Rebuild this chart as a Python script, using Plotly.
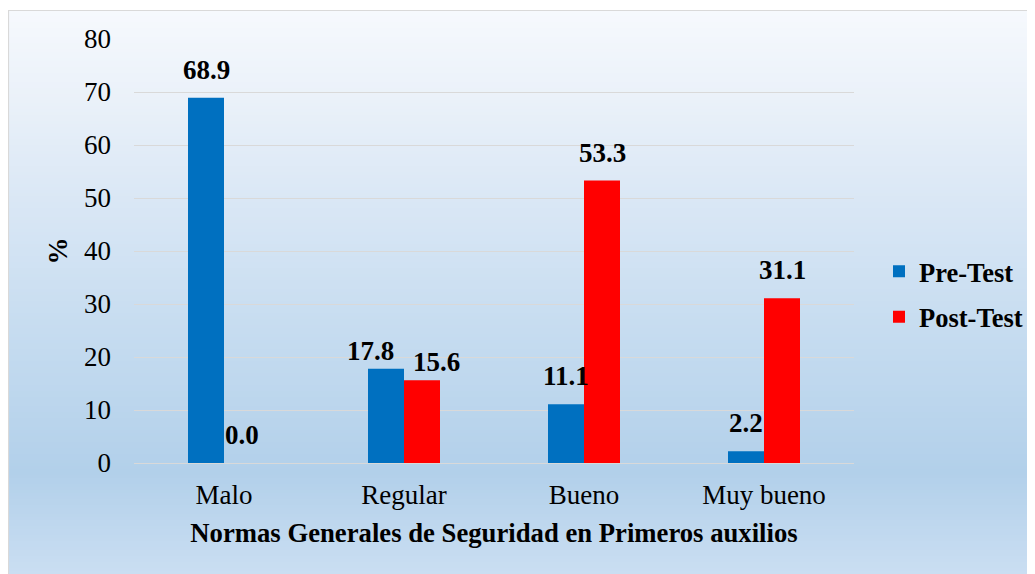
import plotly.graph_objects as go

categories = ["Malo", "Regular", "Bueno", "Muy bueno"]
pre_test = [68.9, 17.8, 11.1, 2.2]
post_test = [0.0, 15.6, 53.3, 31.1]
series_names = ["Pre-Test", "Post-Test"]
y_ticks = [0, 10, 20, 30, 40, 50, 60, 70, 80]

OFF = 8  # page body margin
PW, PH = 1035, 574
W, H = PW - OFF, PH - OFF
# plot area in page pixels
PL, PR, PT, PB = 134, 854, 39, 463
L, T = PL - OFF, PT - OFF
pw, ph = PR - PL, PB - PT
R, B = W - L - pw, H - T - ph

FONT = "Liberation Serif, Times New Roman, serif"
BLUE = "#0070C0"
RED = "#FF0000"
FS = 27

fig = go.Figure()
fig.add_trace(go.Bar(x=categories, y=pre_test, name=f"<b>{series_names[0]}</b>",
                     marker=dict(color=BLUE, line=dict(width=0)), legendgroup="a"))
fig.add_trace(go.Bar(x=categories, y=post_test, name=f"<b>{series_names[1]}</b>",
                     marker=dict(color=RED, line=dict(width=0)), legendgroup="b"))

# data labels (Regular labels nudged apart/lower as in the original)
annotations = []
for vals, base_shift, nudge in ((pre_test, -18, -16), (post_test, 18, 14)):
    for c, v in zip(categories, vals):
        crowded = c == "Regular"
        annotations.append(dict(x=c, y=v, xref="x", yref="y", text=f"<b>{v:.1f}</b>",
                                showarrow=False,
                                xshift=base_shift + (nudge if crowded else 0),
                                yshift=1 if crowded else 11, yanchor="bottom",
                                font=dict(family=FONT, size=FS, color="black")))

# gradient background via stacked bands (page pixel coords -> paper)
def px2x(px):
    return (px - PL) / pw

def py2y(py):
    return (PB - py) / ph

stops = [(10, (0xf6, 0xf9, 0xfd)), (100, (0xea, 0xf1, 0xf9)), (180, (0xdd, 0xe9, 0xf6)),
         (330, (0xc6, 0xdc, 0xf0)), (473, (0xb2, 0xd0, 0xea)), (574, (0xca, 0xde, 0xf2))]

def col_at(py):
    for (y0, c0), (y1, c1) in zip(stops[:-1], stops[1:]):
        if y0 <= py <= y1:
            t = (py - y0) / (y1 - y0)
            return "rgb(%d,%d,%d)" % tuple(round(a + (b - a) * t) for a, b in zip(c0, c1))
    return "rgb(%d,%d,%d)" % stops[-1][1]

shapes = []
step = 3
py = 10
while py < PH:
    shapes.append(dict(type="rect", xref="paper", yref="paper", layer="below",
                       x0=px2x(8), x1=px2x(PW + 5), y0=py2y(min(py + step + 1, PH + 2)), y1=py2y(py),
                       line=dict(width=0), fillcolor=col_at(py + step / 2)))
    py += step
shapes.append(dict(type="rect", xref="paper", yref="paper", layer="below",
                   x0=px2x(8.5), x1=px2x(PW + 5), y0=py2y(PH + 5), y1=py2y(10.5),
                   line=dict(width=1.2, color="#d9d9d9"), fillcolor="rgba(0,0,0,0)"))

fig.update_layout(
    width=W, height=H,
    margin=dict(l=L, r=R, t=T, b=B, pad=0, autoexpand=False),
    paper_bgcolor="white", plot_bgcolor="rgba(0,0,0,0)",
    barmode="group", bargap=0.6, bargroupgap=0,
    font=dict(family=FONT, size=FS, color="black"),
    shapes=shapes, annotations=annotations,
    legend=dict(x=px2x(879), y=py2y(294), xanchor="left", yanchor="middle",
                xref="paper", yref="paper",
                font=dict(family=FONT, size=26.5, color="black"),
                bgcolor="rgba(0,0,0,0)", tracegroupgap=8, itemwidth=30,
                traceorder="grouped"),
    showlegend=True,
)

fig.update_xaxes(showgrid=False, showline=True, linecolor="#d9d9d9", linewidth=1.3,
                 ticks="", ticklabelstandoff=7, tickfont=dict(family=FONT, size=FS),
                 title=dict(text="<b>Normas Generales de Seguridad en Primeros auxilios</b>",
                            font=dict(family=FONT, size=26.7), standoff=14),
                 zeroline=False, fixedrange=True, automargin=False)
fig.update_yaxes(range=[0, 80], tickvals=y_ticks, showgrid=True, gridcolor="#d9d9d9",
                 gridwidth=1.3, zeroline=False, showline=False, ticks="",
                 ticklabelstandoff=22, tickfont=dict(family=FONT, size=FS),
                 title=dict(text="<b>%</b>", font=dict(family=FONT, size=FS), standoff=8),
                 fixedrange=True, automargin=False)

fig.write_html("out.html")
